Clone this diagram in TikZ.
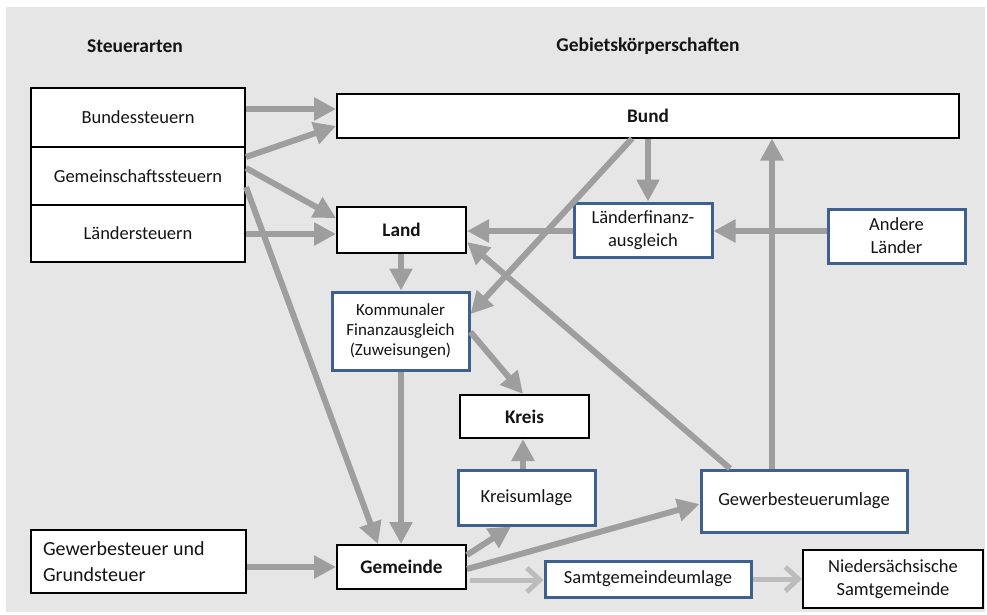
\documentclass[tikz,border=0pt]{standalone}
\usepackage{fontspec}
\setmainfont{Carlito}
\usetikzlibrary{arrows.meta}
\definecolor{bg}{RGB}{230,230,230}
\definecolor{arrg}{RGB}{158,158,158}
\definecolor{arrl}{RGB}{188,188,188}
\definecolor{bluebd}{RGB}{62,96,142}
\definecolor{txt}{RGB}{20,20,20}
\begin{document}
\begin{tikzpicture}[x=1pt,y=-1pt,
  box/.style={draw=black, line width=2pt, fill=white, inner sep=0pt, align=center, text=txt, font=\fontsize{18.5}{23}\selectfont},
  bbox/.style={box, draw=bluebd, line width=3pt},
  bld/.style={font=\bfseries\fontsize{19.2}{23}\selectfont},
  hdr/.style={font=\bfseries\fontsize{19.5}{23}\selectfont, text=txt},
  arr/.style={draw=arrg, line width=6pt, -{Triangle[length=22pt,width=22pt]}},
  larr/.style={draw=arrl, line width=5pt, -{Straight Barb[length=13pt,width=24pt]}}
  ]
\useasboundingbox (0,0) rectangle (987,614);
\fill[white] (0,0) rectangle (987,614);
\fill[bg] (6,7) rectangle (985,612);

% headers
\node[hdr] (h1) at (135,46) {Steuerarten};
\node[hdr] (h2) at (648,46) {Gebietskörperschaften};

% left column
\node[box, minimum width=214pt, minimum height=59pt] (bst) at (138,117.5) {Bundessteuern};
\node[box, minimum width=214pt, minimum height=58pt] (gst) at (138,176) {Gemeinschaftssteuern};
\node[box, minimum width=214pt, minimum height=57pt] (lst) at (138,233.5) {Ländersteuern};
\node[box, minimum width=215pt, minimum height=63pt, text width=191pt, inner xsep=12pt, align=flush left, font=\fontsize{20}{26}\selectfont] (gg) at (138.5,561.5) {Gewerbesteuer und\\Grundsteuer};

% right part
\node[box, bld, minimum width=622pt, minimum height=44pt] (bund) at (648,115.5) {Bund};
\node[box, bld, minimum width=129pt, minimum height=46pt] (land) at (401.5,230) {Land};
\node[bbox, minimum width=138pt, minimum height=54pt] (lfa) at (643,230) {Länderfinanz-\\ausgleich};
\node[bbox, minimum width=137pt, minimum height=54pt] (andere) at (896.5,236) {Andere\\Länder};
\node[bbox, minimum width=137pt, minimum height=78pt, font=\fontsize{17}{20}\selectfont] (kfa) at (400.5,331) {Kommunaler\\Finanzausgleich\\(Zuweisungen)};
\node[box, bld, minimum width=129pt, minimum height=43pt] (kreis) at (524.5,416.5) {Kreis};
\node[bbox, minimum width=137pt, minimum height=55pt] (kum) at (526.5,497.5) {Kreisumlage};
\node[bbox, minimum width=206pt, minimum height=62pt] (gum) at (804,501) {Gewerbesteuerumlage};
\node[box, bld, minimum width=129pt, minimum height=44pt] (gem) at (401.5,567) {Gemeinde};
\node[bbox, minimum width=206pt, minimum height=36pt] (sgu) at (648,579) {Samtgemeindeumlage};
\node[box, minimum width=180pt, minimum height=58pt] (nsg) at (893,579) {Niedersächsische\\Samtgemeinde};

% arrows
\draw[arr] (bst.east |- 0,109) -- (bund.west |- 0,109);
\draw[arr] (gst.east |- 0,157) -- (bund.west |- 0,126);
\draw[arr] (gst.east |- 0,168) -- (land.west |- 0,218);
\draw[arr] (lst.east |- 0,234) -- (land.west |- 0,234);
\draw[arr] (gst.east |- 0,187) -- (378,0 |- gem.north);
\draw[arr] (401,0 |- land.south) -- (401,0 |- kfa.north);
\draw[arr] (648,0 |- bund.south) -- (648,0 |- lfa.north);
\draw[arr] (632,0 |- bund.south) -- (kfa.east |- 0,314);
\draw[arr] (lfa.west |- 0,231) -- (land.east |- 0,231);
\draw[arr] (andere.west |- 0,231) -- (lfa.east |- 0,231);
\draw[arr] (772,0 |- gum.north) -- (772,0 |- bund.south);
\draw[arr] (730,0 |- gum.north) -- (land.east |- 0,242);
\draw[arr] (kfa.east |- 0,332) -- (523,0 |- kreis.north);
\draw[arr] (401,0 |- kfa.south) -- (401,0 |- gem.north);
\draw[arr] (523,0 |- kum.north) -- (523,0 |- kreis.south);
\draw[arr] (gem.east |- 0,555) -- (511,0 |- kum.south);
\draw[arr] (gem.east |- 0,569) -- (gum.west |- 0,504);
\draw[arr] (gg.east |- 0,567) -- (gem.west |- 0,567);
\draw[larr] ([xshift=3pt]gem.east |- 0,580) -- (sgu.west |- 0,580);
\draw[larr] (sgu.east) -- (nsg.west);
\end{tikzpicture}
\end{document}
